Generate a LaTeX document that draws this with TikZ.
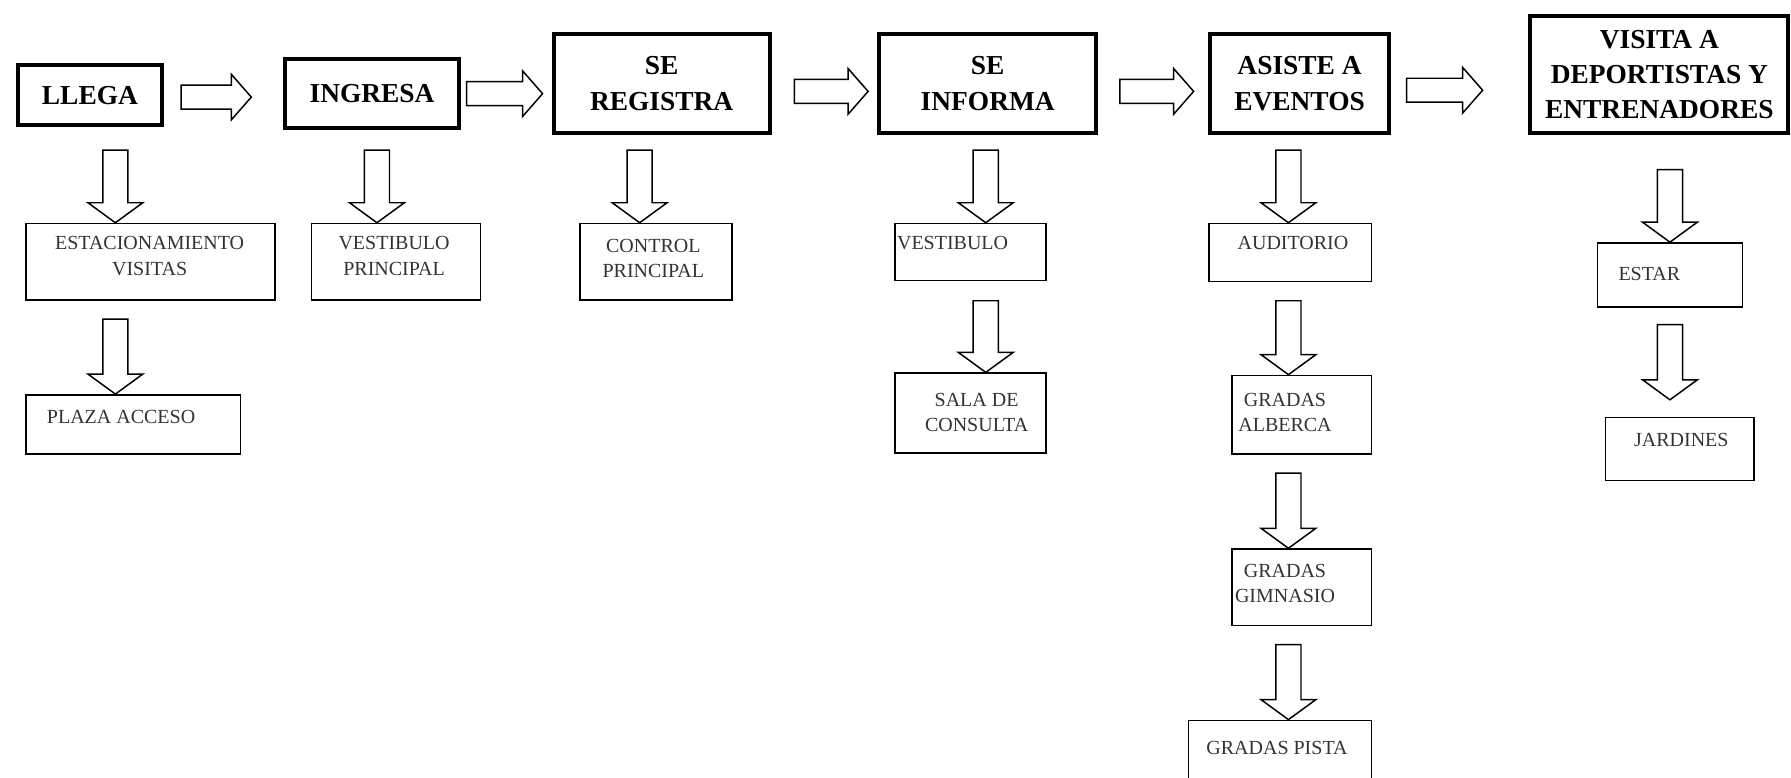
\documentclass[tikz,border=0pt]{standalone}
\usepackage{fontspec}
\setmainfont{Liberation Serif}
\usetikzlibrary{calc}

\tikzset{
  mainbox/.style={draw, line width=3.5pt, anchor=north west, inner sep=0pt,
    align=center, font=\bfseries\fontsize{24}{31}\selectfont},
  subbox/.style={draw, line width=1.3pt, anchor=north west, inner sep=0pt},
  subtext/.style={anchor=north, inner sep=0pt, align=center, text=black!80,
    font=\fontsize{17.5}{22}\selectfont},
  % hollow block arrow pointing right, shaft at height #1
  rarrow/.style={draw, line width=1.3pt, to path={
    let \p1=(\tikztostart), \p2=(\tikztotarget), \p3=(0,#1) in
    (\x1,\y3+10.5pt) -- (\x2-17.5pt,\y3+10.5pt) -- (\x2-17.5pt,\y3+20pt) -- (\x2,\y3)
    -- (\x2-17.5pt,\y3-20pt) -- (\x2-17.5pt,\y3-10.5pt) -- (\x1,\y3-10.5pt) -- cycle}},
  % hollow block arrow pointing down, axis at x=#1, starting #2 below the source
  darrow/.style 2 args={draw, line width=1.3pt, to path={
    let \p1=(\tikztostart), \p2=(\tikztotarget), \p3=(#1,0) in
    (\x3-11pt,\y1-#2pt) -- (\x3-11pt,\y2+17.5pt) -- (\x3-24pt,\y2+17.5pt) -- (\x3,\y2)
    -- (\x3+24pt,\y2+17.5pt) -- (\x3+11pt,\y2+17.5pt) -- (\x3+11pt,\y1-#2pt) -- cycle}},
}

\begin{document}
\begin{tikzpicture}[x=1pt,y=-1pt]
\useasboundingbox (0,0) rectangle (1568,681);
\clip (0,0) rectangle (1568,681);

% main sequence
\node[mainbox, minimum width=126pt, minimum height=53pt] (llega) at (14,55) {LLEGA};
\node[mainbox, minimum width=152pt, minimum height=60pt] (ingresa) at (248,50) {INGRESA};
\node[mainbox, minimum width=189pt, minimum height=87pt] (registra) at (483,28) {SE\\REGISTRA};
\node[mainbox, minimum width=190pt, minimum height=87pt] (informa) at (768,28) {SE\\INFORMA};
\node[mainbox, minimum width=156pt, minimum height=87pt] (asiste) at (1058,28) {ASISTE A\\EVENTOS};
\node[mainbox, minimum width=226pt, minimum height=103pt] (visita) at (1338,12) {VISITA A\\DEPORTISTAS Y\\ENTRENADORES};

% spaces
\node[subbox, minimum width=218pt, minimum height=67pt] (estac) at (22,195) {};
\node[subtext] (estacT) at (131,207) {ESTACIONAMIENTO\\VISITAS};
\node[subbox, minimum width=188pt, minimum height=52pt] (plaza) at (22,345) {};
\node[subtext] (plazaT) at (106,359) {PLAZA ACCESO};
\node[subbox, minimum width=148pt, minimum height=67pt] (vestp) at (272,195) {};
\node[subtext] (vestpT) at (345,207) {VESTIBULO\\PRINCIPAL};
\node[subbox, minimum width=133pt, minimum height=67pt] (control) at (507,195) {};
\node[subtext] (controlT) at (572,209) {CONTROL\\PRINCIPAL};
\node[subbox, minimum width=132pt, minimum height=50pt] (vest) at (783,195) {};
\node[subtext] (vestT) at (834,207) {VESTIBULO};
\node[subbox, minimum width=132pt, minimum height=70pt] (sala) at (783,326) {};
\node[subtext] (salaT) at (855,344) {SALA DE\\CONSULTA};
\node[subbox, minimum width=142pt, minimum height=51pt] (audit) at (1058,195) {};
\node[subtext] (auditT) at (1132,207) {AUDITORIO};
\node[subbox, minimum width=122pt, minimum height=69pt] (alberca) at (1078,328) {};
\node[subtext] (albercaT) at (1125,344) {GRADAS\\ALBERCA};
\node[subbox, minimum width=122pt, minimum height=67pt] (gimnasio) at (1078,480) {};
\node[subtext] (gimnasioT) at (1125,494) {GRADAS\\GIMNASIO};
\node[subbox, minimum width=160pt, minimum height=80pt] (pista) at (1040,630) {};
\node[subtext] (pistaT) at (1118,649) {GRADAS PISTA};
\node[subbox, minimum width=127pt, minimum height=56pt] (estar) at (1398,212) {};
\node[subtext] (estarT) at (1444,234) {ESTAR};
\node[subbox, minimum width=130pt, minimum height=55pt] (jardines) at (1405,365) {};
\node[subtext] (jardinesT) at (1472,379) {JARDINES};

% flow along the top row
\draw[rarrow=85] ([xshift=15pt]llega.east) to ([xshift=-28pt]ingresa.west);
\draw[rarrow=82] ([xshift=5pt]ingresa.east) to ([xshift=-8pt]registra.west);
\draw[rarrow=80] ([xshift=20pt]registra.east) to ([xshift=-8pt]informa.west);
\draw[rarrow=80] ([xshift=19pt]informa.east) to ([xshift=-13pt]asiste.west);
\draw[rarrow=79] ([xshift=14pt]asiste.east) to ([xshift=-40pt]visita.west);

% downward flows
\draw[darrow={101}{20}] (llega.south) to (estac.north);
\draw[darrow={101}{16}] (estac.south) to (plaza.north);
\draw[darrow={330}{18}] (ingresa.south) to (vestp.north);
\draw[darrow={560}{13}] (registra.south) to (control.north);
\draw[darrow={863}{13}] (informa.south) to (vest.north);
\draw[darrow={863}{17}] (vest.south) to (sala.north);
\draw[darrow={1128}{13}] (asiste.south) to (audit.north);
\draw[darrow={1128}{16}] (audit.south) to (alberca.north);
\draw[darrow={1128}{16}] (alberca.south) to (gimnasio.north);
\draw[darrow={1128}{16}] (gimnasio.south) to (pista.north);
\draw[darrow={1462}{30}] (visita.south) to (estar.north);
\draw[darrow={1462}{15}] (estar.south) to ([yshift=15pt]jardines.north);
\end{tikzpicture}
\end{document}
